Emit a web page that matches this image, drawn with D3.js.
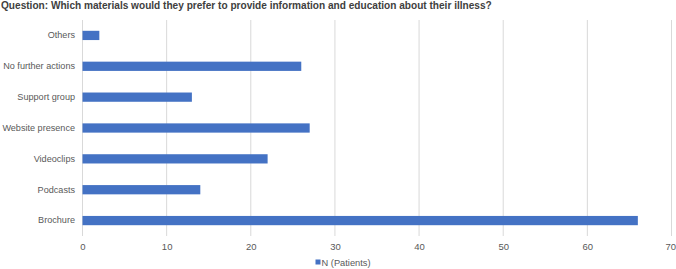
<!DOCTYPE html>
<html><head><meta charset="utf-8">
<script src="https://cdn.jsdelivr.net/npm/d3@7"></script>
<style>body{margin:0;background:#fff}svg{display:block}text{font-family:"Liberation Sans",Arial,sans-serif}</style>
</head><body><svg id="c" width="676" height="269"></svg>
<script>
const categories = ["Others","No further actions","Support group","Website presence","Videoclips","Podcasts","Brochure"];
const values = [2,26,13,27,22,14,66];
const ticks = [0,10,20,30,40,50,60,70];
const seriesName = "N (Patients)";
const title = "Question: Which materials would they prefer to provide information and education about their illness?";

const svg = d3.select("#c");
const W = 676, H = 269;
const m = {l:82.5, r:4.5, t:20, b:33};
const x = d3.scaleLinear().domain([0,70]).range([m.l, W-m.r]);
const y = d3.scaleBand().domain(categories).range([m.t, H-m.b]).paddingInner(0.7).paddingOuter(0.35);

svg.append("text").attr("x",1).attr("y",9).attr("font-size",10.1).attr("font-weight","bold").attr("fill","#404040").text(title);

svg.append("g").selectAll("line").data(ticks).join("line")
  .attr("x1",d=>x(d)).attr("x2",d=>x(d)).attr("y1",m.t).attr("y2",H-m.b)
  .attr("stroke","#d9d9d9").attr("stroke-width",1);

svg.append("g").selectAll("rect").data(categories).join("rect")
  .attr("x",x(0)).attr("y",d=>y(d)).attr("width",(d,i)=>x(values[i])-x(0)).attr("height",y.bandwidth())
  .attr("fill","#4472c4");

const xa = svg.append("g").attr("transform",`translate(0,${H-m.b})`).call(d3.axisBottom(x).tickValues(ticks).tickSize(0).tickPadding(7));
xa.select(".domain").remove();
xa.selectAll("text").attr("font-size",9.5).attr("fill","#595959").style("font-family","Liberation Sans, Arial, sans-serif");
xa.selectAll(".tick").filter(d=>d===70).select("text").attr("text-anchor","end").attr("x",W-0.5-x(70));

const ya = svg.append("g").attr("transform",`translate(${m.l},0)`).call(d3.axisLeft(y).tickSize(0).tickPadding(7.5));
ya.select(".domain").remove();
ya.selectAll("text").attr("font-size",9.1).attr("fill","#595959").style("font-family","Liberation Sans, Arial, sans-serif");

const lg = svg.append("g");
lg.append("rect").attr("x",315.5).attr("y",259.5).attr("width",5).attr("height",5).attr("fill","#4472c4");
lg.append("text").attr("x",321.5).attr("y",265.5).attr("font-size",9.3).attr("fill","#595959").text(seriesName);
</script></body></html>
